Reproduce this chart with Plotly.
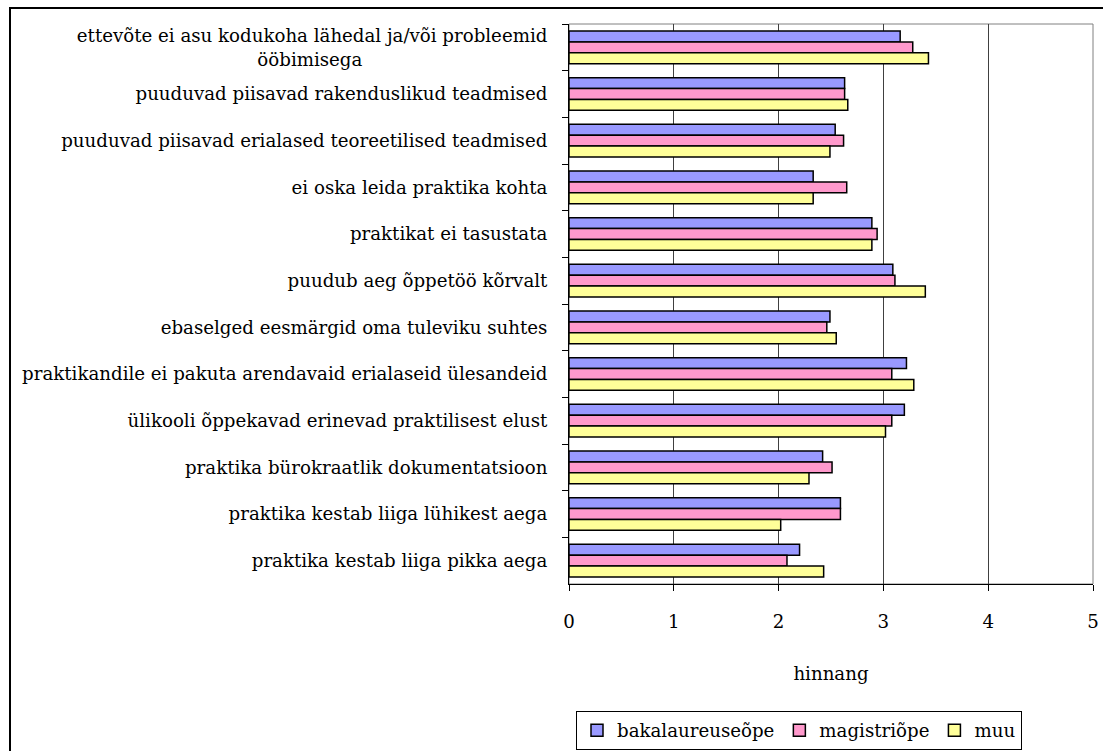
import plotly.graph_objects as go

NB = "\u00a0"
categories = [
    "ettevõte ei asu kodukoha lähedal ja/või probleemid<br>ööbimisega" + NB * 32,
    "puuduvad piisavad rakenduslikud teadmised",
    "puuduvad piisavad erialased teoreetilised teadmised",
    "ei oska leida praktika kohta",
    "praktikat ei tasustata",
    "puudub aeg õppetöö kõrvalt",
    "ebaselged eesmärgid oma tuleviku suhtes",
    "praktikandile ei pakuta arendavaid erialaseid ülesandeid",
    "ülikooli õppekavad erinevad praktilisest elust",
    "praktika bürokraatlik dokumentatsioon",
    "praktika kestab liiga lühikest aega",
    "praktika kestab liiga pikka aega",
]
series_names = ["bakalaureuseõpe", "magistriõpe", "muu"]
bakalaureus = [3.16, 2.63, 2.54, 2.33, 2.89, 3.09, 2.49, 3.22, 3.20, 2.42, 2.59, 2.20]
magister = [3.28, 2.63, 2.62, 2.65, 2.94, 3.11, 2.46, 3.08, 3.08, 2.51, 2.59, 2.08]
muu = [3.43, 2.66, 2.49, 2.33, 2.89, 3.40, 2.55, 3.29, 3.02, 2.29, 2.02, 2.43]
colors = ["#9999FF", "#FF99CC", "#FFFF99"]
x_ticks = [0, 1, 2, 3, 4, 5]
x_title = "hinnang"

FONT = "DejaVu Serif"
FS = 18.2
fig = go.Figure()
for name, vals, col in zip(series_names, [bakalaureus, magister, muu], colors):
    fig.add_trace(go.Bar(
        y=categories, x=vals, name=name, orientation="h",
        marker=dict(color=col, line=dict(color="black", width=1.5)),
    ))

W, H = 1103, 751
L, R, T, B = 569, 10, 24, 167
pw = W - L - R
ph = H - T - B

fig.update_layout(
    width=W, height=H, autosize=False,
    margin=dict(l=L, r=R, t=T, b=B, pad=0, autoexpand=False),
    paper_bgcolor="white", plot_bgcolor="white",
    font=dict(family=FONT, size=FS, color="black"),
    barmode="group", bargap=0.30, bargroupgap=0,
    showlegend=True,
    legend=dict(
        orientation="h", x=(799 - L) / pw, y=(584 - 711) / ph,
        xanchor="center", yanchor="top",
        bordercolor="black", borderwidth=1, bgcolor="white",
        font=dict(family=FONT, size=FS), itemwidth=30,
        tracegroupgap=0,
    ),
    xaxis=dict(
        range=[0, 5], tickvals=x_ticks, ticktext=[str(v) for v in x_ticks],
        showgrid=True, gridcolor="#404040", gridwidth=1,
        showline=True, linecolor="black", linewidth=1,
        ticks="outside", ticklen=6, tickcolor="black",
        ticklabelstandoff=15, zeroline=False, automargin=False,
        title=dict(text=x_title, standoff=36, font=dict(family=FONT, size=FS)),
        fixedrange=True,
    ),
    yaxis=dict(
        autorange="reversed", type="category",
        showline=True, linecolor="black", linewidth=1,
        ticks="outside", ticklen=6, tickcolor="black", tickson="boundaries",
        ticklabelstandoff=17, showgrid=False, fixedrange=True, automargin=False,
    ),
    shapes=[
        dict(type="rect", xref="paper", yref="paper", x0=0, x1=1, y0=0, y1=1,
             line=dict(color="#808080", width=1), layer="below"),
        dict(type="rect", xref="paper", yref="paper",
             x0=(10 - L) / pw, x1=(W + 20 - L) / pw,
             y0=(ph + T - H - 20) / ph, y1=1 + (T - 8) / ph,
             line=dict(color="black", width=2)),
    ],
)

fig.write_html("out.html")
